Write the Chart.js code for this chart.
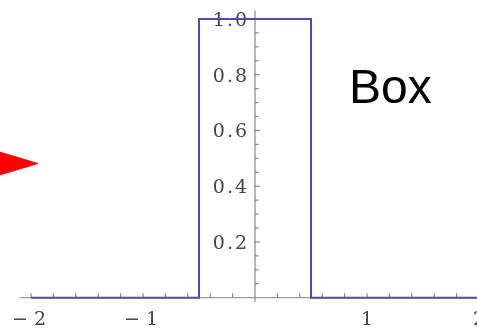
<!DOCTYPE html>
<html>
<head>
<meta charset="utf-8">
<script src="https://cdn.jsdelivr.net/npm/chart.js@4/dist/chart.umd.min.js"></script>
<style>
  html, body { margin: 0; padding: 0; background: #fff; }
  #wrap { width: 477px; height: 331px; position: relative; }
</style>
</head>
<body>
<div id="wrap"><canvas id="c"></canvas></div>
<script>
// ---- data ----
const boxX = [-2, -0.5, -0.5, 0.5, 0.5, 2];
const boxY = [0, 0, 1, 1, 0, 0];
const arrowX = [-2.4, -1.94, -2.4, -2.4];
const arrowY = [0.537, 0.4815, 0.426, 0.537];
const xTickLabels = ['\u2212 2', '\u2212 1', '1', '2'];
const xTickLabelValues = [-2, -1, 1, 2];
const yTickLabels = ['0.2', '0.4', '0.6', '0.8', '1.0'];
const yTickLabelValues = [0.2, 0.4, 0.6, 0.8, 1.0];
const titleText = 'Box';

const xMinorStep = 0.2;   // x tick marks
const yMinorStep = 0.05;  // y tick marks
const yMajorStep = 0.2;

const axesPlugin = {
  id: 'centerAxes',
  beforeDatasetsDraw(chart) {
    const ctx = chart.ctx;
    const xs = chart.scales.x, ys = chart.scales.y;
    const x0 = xs.getPixelForValue(0), y0 = ys.getPixelForValue(0);
    ctx.save();
    ctx.strokeStyle = '#9a9a9a';
    ctx.lineWidth = 1.2;
    // x axis line
    ctx.beginPath();
    ctx.moveTo(xs.getPixelForValue(-2.1), y0);
    ctx.lineTo(xs.getPixelForValue(2.1), y0);
    ctx.stroke();
    // y axis line
    ctx.strokeStyle = '#888';
    ctx.beginPath();
    ctx.moveTo(x0, ys.getPixelForValue(1.03));
    ctx.lineTo(x0, ys.getPixelForValue(-0.015));
    ctx.stroke();
    // x tick marks (upwards)
    ctx.strokeStyle = '#888';
    for (let i = -10; i <= 10; i++) {
      if (i === 0) continue;
      const px = xs.getPixelForValue(i * xMinorStep);
      ctx.beginPath();
      ctx.moveTo(px, y0);
      ctx.lineTo(px, y0 - 4.5);
      ctx.stroke();
    }
    // y tick marks (to the right)
    for (let j = 1; j <= 20; j++) {
      const v = j * yMinorStep;
      const py = ys.getPixelForValue(v);
      const major = Math.abs(v / yMajorStep - Math.round(v / yMajorStep)) < 1e-6;
      ctx.beginPath();
      ctx.moveTo(x0 - (major ? 1 : 0), py);
      ctx.lineTo(x0 + (major ? 5 : 3.5), py);
      ctx.stroke();
    }
    // labels
    ctx.fillStyle = '#444';
    ctx.font = '19px "DejaVu Serif"';
    try { ctx.letterSpacing = '2px'; } catch (e) {}
    ctx.textAlign = 'right';
    ctx.textBaseline = 'middle';
    yTickLabelValues.forEach((v, i) => {
      ctx.fillText(yTickLabels[i], x0 - 6, ys.getPixelForValue(v) + 2);
    });
    ctx.textAlign = 'center';
    ctx.textBaseline = 'middle';
    try { ctx.letterSpacing = '0px'; } catch (e) {}
    xTickLabelValues.forEach((v, i) => {
      ctx.fillText(xTickLabels[i], xs.getPixelForValue(v) - (v < 0 ? 2 : 0), y0 + 22);
    });
    ctx.restore();
  },
  afterDatasetsDraw(chart) {
    const ctx = chart.ctx;
    ctx.save();
    ctx.fillStyle = '#000';
    ctx.font = '48px "Liberation Sans", Arial, sans-serif';
    ctx.textAlign = 'left';
    ctx.textBaseline = 'alphabetic';
    ctx.fillText(titleText, 349, 103);
    ctx.restore();
  }
};

new Chart(document.getElementById('c'), {
  type: 'scatter',
  data: {
    datasets: [
      {
        data: boxX.map((x, i) => ({ x, y: boxY[i] })),
        showLine: true,
        borderColor: 'rgb(78,78,165)',
        borderWidth: 2,
        pointRadius: 0,
        fill: false,
        tension: 0
      },
      {
        data: arrowX.map((x, i) => ({ x, y: arrowY[i] })),
        showLine: true,
        borderColor: '#ff0000',
        backgroundColor: '#ff0000',
        borderWidth: 1,
        pointRadius: 0,
        fill: 'shape',
        tension: 0
      }
    ]
  },
  options: {
    responsive: true,
    maintainAspectRatio: false,
    animation: false,
    layout: { padding: 0 },
    plugins: { legend: { display: false }, tooltip: { enabled: false } },
    scales: {
      x: { type: 'linear', min: -2.277, max: 1.982, display: false },
      y: { type: 'linear', min: -0.1195, max: 1.068, display: false }
    }
  },
  plugins: [axesPlugin]
});
</script>
</body>
</html>
